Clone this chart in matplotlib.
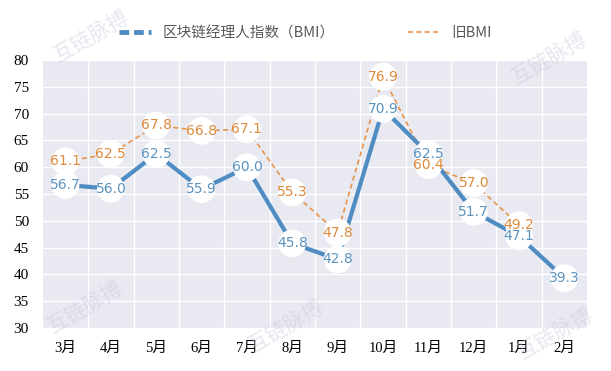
import matplotlib
matplotlib.use("Agg")
from matplotlib import pyplot as plt
from matplotlib.lines import Line2D

monate = ["3月", "4月", "5月", "6月", "7月", "8月", "9月", "10月", "11月", "12月", "1月", "2月"]
bmi = [56.7, 56.0, 62.5, 55.9, 60.0, 45.8, 42.8, 70.9, 62.5, 51.7, 47.1, 39.3]
alt_bmi = [61.1, 62.5, 67.8, 66.8, 67.1, 55.3, 47.8, 76.9, 60.4, 57.0, 49.2]

blau = "#4e8cc2"
blau_text = "#5b93bf"
orange = "#e8944a"
orange_text = "#dd8a3a"

plt.rcParams["font.family"] = ["Noto Sans CJK SC", "DejaVu Sans"]

fig = plt.figure(figsize=(6.11, 3.71), dpi=100)
ax = fig.add_axes([0.070, 0.116, 0.891, 0.722])
ax.set_facecolor("#e8e9f1")

x = list(range(len(monate)))
x_alt = list(range(len(alt_bmi)))

ax.plot(x_alt, alt_bmi, color=orange, lw=1.2, ls=(0, (3, 2)), zorder=3)
ax.plot(x, bmi, color=blau, lw=3.0, zorder=4)

ax.scatter(x_alt, alt_bmi, s=400, color="white", edgecolor="none", zorder=5)
ax.scatter(x, bmi, s=400, color="white", edgecolor="none", zorder=5)

for xi, v in zip(x_alt, alt_bmi):
    ax.text(xi, v, f"{v:.1f}", color=orange_text, fontsize=10, ha="center", va="center",
            family="DejaVu Sans", zorder=7)
for xi, v in zip(x, bmi):
    ax.text(xi, v, f"{v:.1f}", color=blau_text, fontsize=10, ha="center", va="center",
            family="DejaVu Sans", zorder=7)

ax.set_xlim(-0.5, len(monate) - 0.5)
ax.set_ylim(30, 80)
ax.set_yticks(range(30, 81, 5))
ax.set_xticks(x)
ax.set_xticklabels(monate, family=["Liberation Serif", "Noto Sans CJK SC"], fontsize=10.5)
for lab in ax.get_yticklabels():
    lab.set_family("Liberation Serif")
    lab.set_fontsize(11)

ax.set_xticks([i + 0.5 for i in range(len(monate) - 1)], minor=True)
ax.grid(axis="y", color="white", lw=1.0)
ax.grid(axis="x", which="minor", color="white", lw=1.0)
ax.set_axisbelow(True)
ax.tick_params(length=0, which="both", pad=10)
for s in ax.spines.values():
    s.set_visible(False)

handles = [Line2D([], [], color=blau, lw=3.5, ls=(0, (2, 1))),
           Line2D([], [], color=orange, lw=1.2, ls=(0, (3, 2)))]
fig.legend(handles, ["区块链经理人指数（BMI）", "旧BMI"], loc="center", bbox_to_anchor=(0.5, 0.91),
           ncol=2, frameon=False, fontsize=10.5, labelcolor="#595959", columnspacing=5, handlelength=2.2)

# Wasserzeichen
for wx, wy in [(0.15, 0.90), (0.90, 0.84), (0.14, 0.17), (0.47, 0.12), (0.91, 0.10)]:
    fig.text(wx, wy, "互链脉搏", rotation=30, fontsize=15, color="#cfc8dc", alpha=0.45,
             ha="center", va="center", zorder=10)

fig.savefig("out.png", dpi=100)
